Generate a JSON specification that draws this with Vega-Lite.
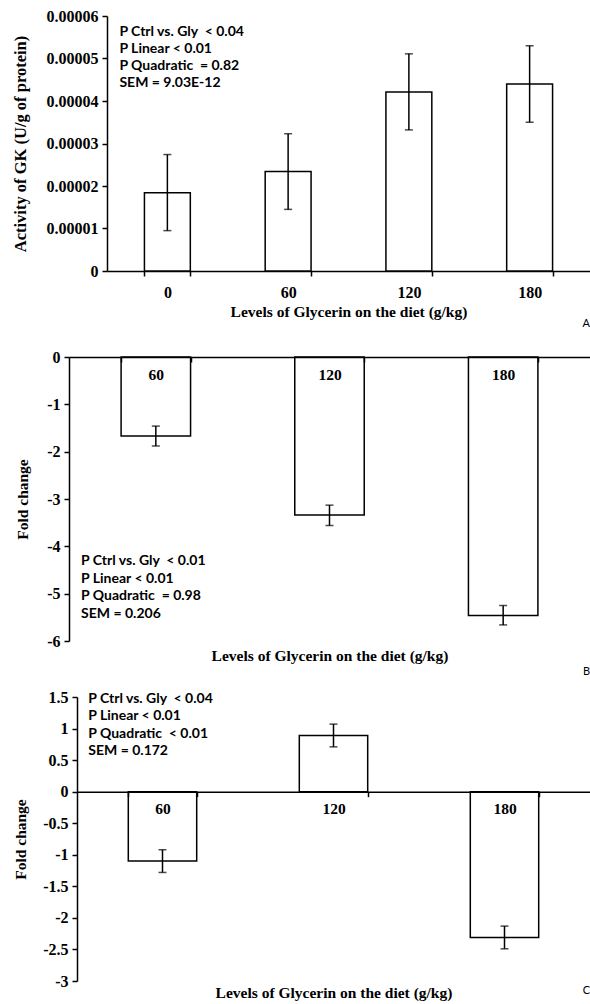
{
  "$schema": "https://vega.github.io/schema/vega-lite/v6.json",
  "padding": {"left": 12, "top": 8, "right": 0, "bottom": 0},
  "background": "white",
  "config": {
    "view": {"stroke": null},
    "axis": {
      "labelFont": "Liberation Serif", "labelFontWeight": "bold", "labelFontSize": 16, "labelColor": "black",
      "titleFont": "Liberation Serif", "titleFontWeight": "bold", "titleFontSize": 15.5, "titleColor": "black",
      "domainColor": "black", "domainWidth": 1.5, "tickColor": "black", "tickWidth": 1.5, "tickSize": 5, "grid": false,
      "labelOverlap": false
    },
    "title": {"font": "Lato", "fontSize": 11, "fontWeight": "normal", "color": "black"}
  },
  "spacing": 20,
  "vconcat": [
    {
      "width": 521, "height": 255,
      "title": {"text": "A", "orient": "bottom", "anchor": "end", "offset": -2},
      "data": {"values": [
        {"level": "0", "mean": 0.0000184, "lo": 0.0000095, "hi": 0.0000274},
        {"level": "60", "mean": 0.0000234, "lo": 0.0000145, "hi": 0.0000323},
        {"level": "120", "mean": 0.0000421, "lo": 0.0000332, "hi": 0.0000511},
        {"level": "180", "mean": 0.0000440, "lo": 0.0000350, "hi": 0.0000530}
      ]},
      "layer": [
        {
          "mark": {"type": "bar", "fill": "white", "stroke": "black", "strokeWidth": 1.5},
          "encoding": {
            "x": {"field": "level", "type": "nominal", "sort": null, "title": "Levels of Glycerin on the diet (g/kg)",
              "scale": {"range": [38, 521], "paddingInner": 0.62, "paddingOuter": 0.31},
              "axis": {"labelAngle": 0, "tickBand": "extent", "labelPadding": 8, "titlePadding": 4}},
            "y": {"field": "mean", "type": "quantitative", "title": "Activity of GK (U/g of protein)",
              "scale": {"domain": [0, 0.00006]},
              "axis": {"offset": -38, "values": [0, 0.00001, 0.00002, 0.00003, 0.00004, 0.00005, 0.00006], "tickCount": 10,
                "labelExpr": "datum.value == 0 ? '0' : format(datum.value, '.5f')", "labelPadding": 4, "titlePadding": 18, "titleFontSize": 16.5}}
          }
        },
        {
          "mark": {"type": "errorbar", "color": "black", "thickness": 1.5, "ticks": {"size": 8}},
          "encoding": {
            "x": {"field": "level", "type": "nominal", "sort": null, "title": "Levels of Glycerin on the diet (g/kg)"},
            "y": {"field": "lo", "type": "quantitative", "title": "Activity of GK (U/g of protein)"},
            "y2": {"field": "hi"}
          }
        },
        {
          "data": {"values": [{"k": 1}]},
          "mark": {"type": "text", "align": "left", "baseline": "middle", "font": "Lato", "fontWeight": "bold", "fontSize": 14, "lineHeight": 17, "dx": -25, "color": "black"},
          "encoding": {
            "x": {"datum": "0", "bandPosition": 0},
            "y": {"datum": 0.0000563},
            "text": {"value": ["P Ctrl vs. Gly\u00a0\u00a0< 0.04", "P Linear < 0.01", "P Quadratic\u00a0\u00a0= 0.82", "SEM = 9.03E-12"]}
          }
        }
      ]
    },
    {
      "spacing": 12,
      "vconcat": [
        {
          "width": 521, "height": 284,
          "title": {"text": "B", "orient": "bottom", "anchor": "end", "offset": 2},
          "data": {"values": [
            {"level": "60", "mean": -1.67, "lo": -1.88, "hi": -1.46},
            {"level": "120", "mean": -3.34, "lo": -3.56, "hi": -3.13},
            {"level": "180", "mean": -5.46, "lo": -5.66, "hi": -5.25}
          ]},
          "layer": [
            {
              "mark": {"type": "bar", "fill": "white", "stroke": "black", "strokeWidth": 1.5},
              "encoding": {
                "x": {"field": "level", "type": "nominal", "sort": null, "scale": {"paddingInner": 0.6, "paddingOuter": 0.3},
                  "axis": {"orient": "bottom", "offset": -284, "zindex": 1, "title": null, "labelAngle": 0, "tickBand": "extent", "labelPadding": 5, "labelFontSize": 15.5}},
                "y": {"field": "mean", "type": "quantitative", "title": "Fold change", "scale": {"domain": [-6, 0]},
                  "axis": {"values": [-6, -5, -4, -3, -2, -1, 0], "tickCount": 10, "labelExpr": "'' + datum.value", "labelPadding": 4, "titlePadding": 16}}
              }
            },
            {
              "mark": {"type": "errorbar", "color": "black", "thickness": 1.5, "ticks": {"size": 8}},
              "encoding": {
                "x": {"field": "level", "type": "nominal", "sort": null,
                  "axis": {"orient": "bottom", "title": "Levels of Glycerin on the diet (g/kg)", "labels": false, "ticks": false, "domain": false, "titlePadding": 7}},
                "y": {"field": "lo", "type": "quantitative", "title": "Fold change"},
                "y2": {"field": "hi"}
              }
            },
            {
              "data": {"values": [{"k": 1}]},
              "mark": {"type": "text", "align": "left", "baseline": "middle", "font": "Lato", "fontWeight": "bold", "fontSize": 14, "lineHeight": 17.5, "dx": -40, "color": "black"},
              "encoding": {
                "x": {"datum": "60", "bandPosition": 0, "axis": {"orient": "top", "labels": false, "ticks": false, "domain": false, "title": null}},
                "y": {"datum": -4.32},
                "text": {"value": ["P Ctrl vs. Gly\u00a0\u00a0< 0.01", "P Linear < 0.01", "P Quadratic\u00a0\u00a0= 0.98", "SEM = 0.206"]}
              }
            }
          ],
          "resolve": {"axis": {"x": "independent"}}
        },
        {
          "width": 521, "height": 284,
          "title": {"text": "C", "orient": "bottom", "anchor": "end", "offset": -16},
          "data": {"values": [
            {"level": "60", "mean": -1.10, "lo": -1.28, "hi": -0.92},
            {"level": "120", "mean": 0.89, "lo": 0.71, "hi": 1.07},
            {"level": "180", "mean": -2.31, "lo": -2.49, "hi": -2.13}
          ]},
          "layer": [
            {
              "mark": {"type": "bar", "fill": "white", "stroke": "black", "strokeWidth": 1.5},
              "encoding": {
                "x": {"field": "level", "type": "nominal", "sort": null, "scale": {"range": [8, 521], "paddingInner": 0.6, "paddingOuter": 0.3},
                  "axis": {"orient": "bottom", "offset": -189.33, "zindex": 1, "title": null, "labelAngle": 0, "tickBand": "extent", "labelPadding": 5, "labelFontSize": 15.5}},
                "y": {"field": "mean", "type": "quantitative", "title": "Fold change", "scale": {"domain": [-3, 1.5]},
                  "axis": {"offset": -8, "values": [-3, -2.5, -2, -1.5, -1, -0.5, 0, 0.5, 1, 1.5], "tickCount": 12, "labelExpr": "'' + datum.value", "labelPadding": 4, "titlePadding": 14}}
              }
            },
            {
              "mark": {"type": "errorbar", "color": "black", "thickness": 1.5, "ticks": {"size": 8}},
              "encoding": {
                "x": {"field": "level", "type": "nominal", "sort": null,
                  "axis": {"orient": "bottom", "title": "Levels of Glycerin on the diet (g/kg)", "labels": false, "ticks": false, "domain": false, "titlePadding": 4}},
                "y": {"field": "lo", "type": "quantitative", "title": "Fold change"},
                "y2": {"field": "hi"}
              }
            },
            {
              "data": {"values": [{"k": 1}]},
              "mark": {"type": "text", "align": "left", "baseline": "middle", "font": "Lato", "fontWeight": "bold", "fontSize": 14, "lineHeight": 17.5, "dx": -40, "color": "black"},
              "encoding": {
                "x": {"datum": "60", "bandPosition": 0, "axis": {"orient": "top", "labels": false, "ticks": false, "domain": false, "title": null}},
                "y": {"datum": 1.47},
                "text": {"value": ["P Ctrl vs. Gly\u00a0\u00a0< 0.04", "P Linear < 0.01", "P Quadratic\u00a0\u00a0< 0.01", "SEM = 0.172"]}
              }
            }
          ],
          "resolve": {"axis": {"x": "independent"}}
        }
      ]
    }
  ]
}
